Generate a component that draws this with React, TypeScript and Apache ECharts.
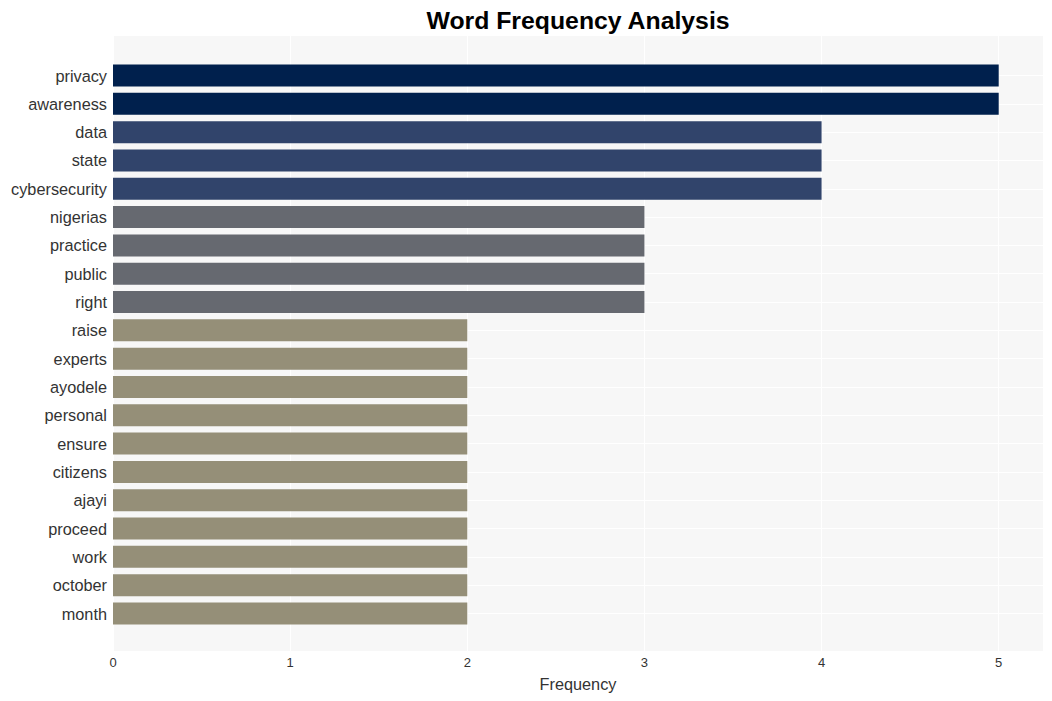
import React, { useEffect, useRef } from "react";
import * as echarts from "echarts";

const words = [
  "privacy", "awareness", "data", "state", "cybersecurity", "nigerias", "practice",
  "public", "right", "raise", "experts", "ayodele", "personal", "ensure", "citizens",
  "ajayi", "proceed", "work", "october", "month",
];
const counts = [5, 5, 4, 4, 4, 3, 3, 3, 3, 2, 2, 2, 2, 2, 2, 2, 2, 2, 2, 2];
const xTicks = [0, 1, 2, 3, 4, 5];
const palette: Record<number, string> = {
  5: "#00204D",
  4: "#31446B",
  3: "#666970",
  2: "#958F78",
};

const FONT = "'Liberation Sans', Arial, sans-serif";

export default function App() {
  const ref = useRef<HTMLDivElement>(null);
  useEffect(() => {
    document.body.style.margin = "0";
    if (!ref.current) return;
    const chart = echarts.init(ref.current, undefined, { renderer: "svg" });
    const xMax = 5.25;
    chart.setOption({
      animation: false,
      textStyle: { fontFamily: FONT },
      graphic: [
        {
          type: "text",
          x: 578,
          y: 20,
          style: {
            text: "Word Frequency Analysis",
            font: `bold 24.8px ${FONT}`,
            fill: "#000000",
            textAlign: "center",
            textVerticalAlign: "middle",
          },
        },
      ],
      grid: [
        {
          left: 113,
          right: 9,
          top: 36,
          bottom: 50,
          show: true,
          backgroundColor: "#F7F7F7",
          borderWidth: 0,
        },
        {
          left: 113,
          right: 9,
          top: 75.5,
          bottom: 87.5,
          show: false,
        },
      ],
      xAxis: [
        {
          type: "value",
          gridIndex: 0,
          min: 0,
          max: xMax,
          interval: 1,
          axisLine: { show: false },
          axisTick: { show: false },
          splitLine: { show: true, lineStyle: { color: "#FFFFFF", width: 1.2 } },
          axisLabel: {
            color: "#333333",
            fontSize: 13,
            margin: 5,
            fontFamily: FONT,
            formatter: (v: number) => (xTicks.includes(v) ? String(v) : ""),
          },
          name: "Frequency",
          nameLocation: "middle",
          nameGap: 25,
          nameTextStyle: { color: "#333333", fontSize: 16.3, fontFamily: FONT },
        },
        {
          type: "value",
          gridIndex: 1,
          min: 0,
          max: xMax,
          show: false,
          splitLine: { show: false },
        },
      ],
      yAxis: [
        { type: "value", gridIndex: 0, show: false, splitLine: { show: false } },
        {
          type: "category",
          gridIndex: 1,
          data: words,
          inverse: true,
          boundaryGap: false,
          axisLine: { show: false },
          axisTick: { show: false },
          axisLabel: { color: "#333333", fontSize: 16.3, margin: 6, fontFamily: FONT },
          splitLine: { show: true, lineStyle: { color: "#FFFFFF", width: 1.2 } },
        },
      ],
      series: [
        {
          type: "bar",
          xAxisIndex: 1,
          yAxisIndex: 1,
          barWidth: 22,
          clip: false,
          data: counts.map((c) => ({ value: c, itemStyle: { color: palette[c] } })),
        },
      ],
    });
    return () => chart.dispose();
  }, []);
  return <div ref={ref} style={{ width: 1052, height: 701 }} />;
}
